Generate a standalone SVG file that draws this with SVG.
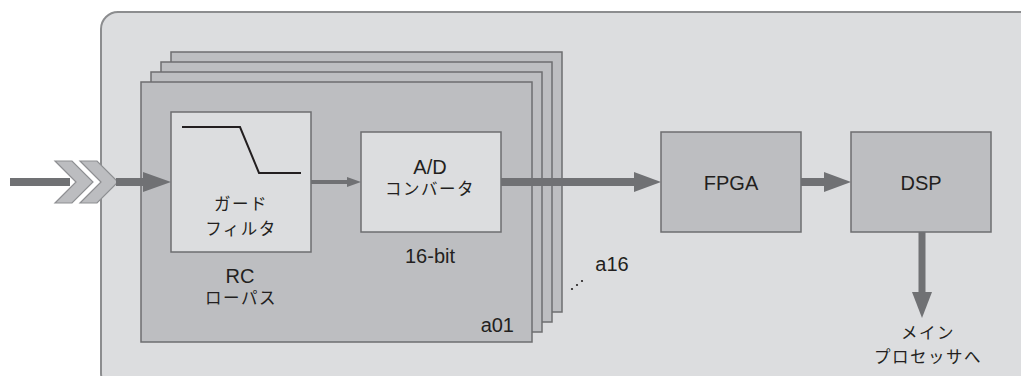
<svg xmlns="http://www.w3.org/2000/svg" width="1021" height="376" viewBox="0 0 1021 376">
<style>
.lat{font-family:"Liberation Sans","Noto Sans CJK JP",sans-serif;font-size:20px;fill:#231f20;text-anchor:middle}
.jp{font-family:"Noto Sans CJK JP","Liberation Sans",sans-serif;font-size:16.5px;fill:#231f20;text-anchor:middle;letter-spacing:1.5px}
.card{fill:#bdbec1;stroke:#6d6e70;stroke-width:1.5}
.inner{fill:#dcdddf;stroke:#6d6e70;stroke-width:1.5}
.blk{fill:#bdbec1;stroke:#6d6e70;stroke-width:1.5}
.shaft{stroke:#707174;stroke-width:8;fill:none}
.head{fill:#707174}
.chev{fill:#bcbdc0;stroke:#8e8f92;stroke-width:1.2}
</style>
<rect id="frame" x="101" y="12" width="935" height="378" rx="17" fill="#dcdddf" stroke="#8c8d8f" stroke-width="2"/>
<g id="card-a16"><rect class="card" x="171" y="52" width="391" height="260"/></g>
<g id="card-3"><rect class="card" x="161" y="62" width="391" height="260"/></g>
<g id="card-2"><rect class="card" x="151" y="72" width="391" height="260"/></g>
<g id="card-a01"><rect class="card" x="141" y="82" width="391" height="260"/>
<text class="lat" x="514" y="332" style="text-anchor:end">a01</text></g>
<g id="guard-filter">
<rect class="inner" x="171" y="112" width="140" height="140"/>
<polyline points="182,127 240,127 259,173 301,173" fill="none" stroke="#231f20" stroke-width="2"/>
<text class="jp" x="241" y="210">ガード</text>
<text class="jp" x="241" y="235">フィルタ</text>
</g>
<g id="rc-label">
<text class="lat" x="240" y="283">RC</text>
<text class="jp" x="241" y="304">ローパス</text>
</g>
<g id="adc">
<rect class="inner" x="361" y="132" width="140" height="100"/>
<text class="lat" x="430" y="174">A/D</text>
<text class="jp" x="430" y="195">コンバータ</text>
<text class="lat" x="430" y="263">16-bit</text>
</g>
<g id="a16-label">
<text class="lat" x="612" y="271">a16</text>
<circle cx="572" cy="289" r="1.1" fill="#231f20"/>
<circle cx="577" cy="285" r="1.1" fill="#231f20"/>
<circle cx="582" cy="281" r="1.1" fill="#231f20"/>
</g>
<g id="fpga"><rect class="blk" x="661" y="132" width="140" height="100"/><text class="lat" x="731" y="190">FPGA</text></g>
<g id="dsp"><rect class="blk" x="851" y="132" width="140" height="100"/><text class="lat" x="921" y="190">DSP</text></g>
<g id="out-label">
<text class="jp" x="928" y="339">メイン</text>
<text class="jp" x="928" y="363">プロセッサへ</text>
</g>
<g id="connectors">
<line class="shaft" x1="10" y1="182" x2="70" y2="182"/>
<polygon class="chev" points="55,161 72,161 93,182 72,203 55,203 76,182"/>
<polygon class="chev" points="80,161 97,161 118,182 97,203 80,203 101,182"/>
<line class="shaft" x1="116" y1="182" x2="146" y2="182"/>
<polygon class="head" points="143,172 171,182 143,192"/>
<line stroke="#707174" stroke-width="4" x1="311" y1="182" x2="350" y2="182"/>
<polygon class="head" points="347,177 361,182 347,187"/>
<line class="shaft" x1="501" y1="182" x2="637" y2="182"/>
<polygon class="head" points="634,172 661,182 634,192"/>
<line class="shaft" x1="801" y1="182" x2="827" y2="182"/>
<polygon class="head" points="824,172 851,182 824,192"/>
<line stroke="#707174" stroke-width="7" x1="922" y1="232" x2="922" y2="294"/>
<polygon class="head" points="912,292 932,292 922,318"/>
</g>
</svg>
